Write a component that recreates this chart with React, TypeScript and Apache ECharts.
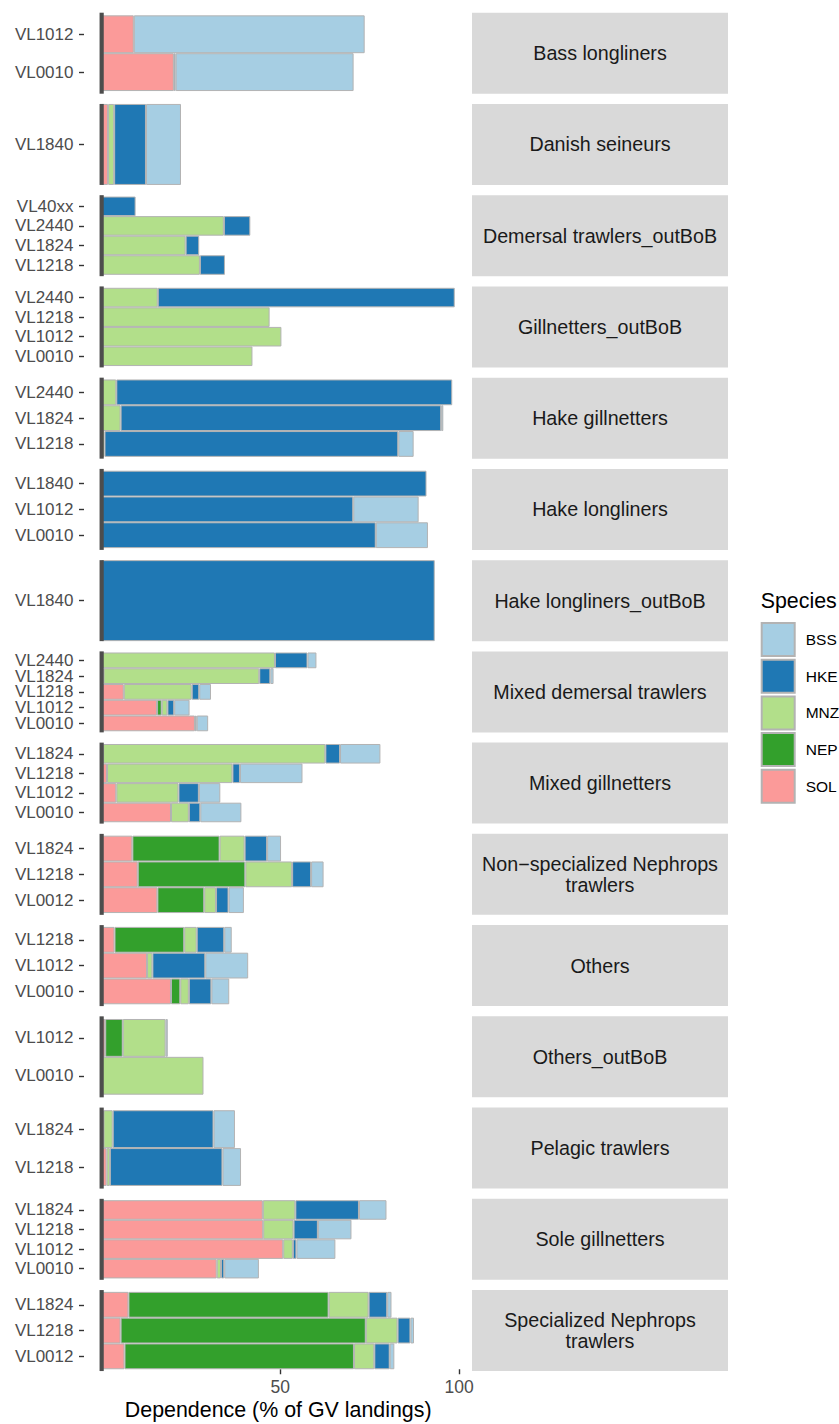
import React, { useEffect, useRef } from "react";
import * as echarts from "echarts";

// Facet (fleet) labels, top to bottom
const fleetLabels = [
  "Bass longliners",
  "Danish seineurs",
  "Demersal trawlers_outBoB",
  "Gillnetters_outBoB",
  "Hake gillnetters",
  "Hake longliners",
  "Hake longliners_outBoB",
  "Mixed demersal trawlers",
  "Mixed gillnetters",
  "Non−specialized Nephrops\ntrawlers",
  "Others",
  "Others_outBoB",
  "Pelagic trawlers",
  "Sole gillnetters",
  "Specialized Nephrops\ntrawlers",
];

// One entry per bar (row), top to bottom within each facet
const rowFleet = [
  0, 0,
  1,
  2, 2, 2, 2,
  3, 3, 3, 3,
  4, 4, 4,
  5, 5, 5,
  6,
  7, 7, 7, 7, 7,
  8, 8, 8, 8,
  9, 9, 9,
  10, 10, 10,
  11, 11,
  12, 12,
  13, 13, 13, 13,
  14, 14, 14,
];

const rowVessel = [
  "VL1012", "VL0010",
  "VL1840",
  "VL40xx", "VL2440", "VL1824", "VL1218",
  "VL2440", "VL1218", "VL1012", "VL0010",
  "VL2440", "VL1824", "VL1218",
  "VL1840", "VL1012", "VL0010",
  "VL1840",
  "VL2440", "VL1824", "VL1218", "VL1012", "VL0010",
  "VL1824", "VL1218", "VL1012", "VL0010",
  "VL1824", "VL1218", "VL0012",
  "VL1218", "VL1012", "VL0010",
  "VL1012", "VL0010",
  "VL1824", "VL1218",
  "VL1824", "VL1218", "VL1012", "VL0010",
  "VL1824", "VL1218", "VL0012",
];

// Dependence (% of GV landings) by species
const SOL = [
  9.0, 20.2,
  1.8,
  0, 0, 0, 0,
  0, 0, 0, 0,
  0, 0, 0,
  0, 0, 0,
  0,
  0, 0.5, 6.2, 15.5, 26.1,
  0.4, 1.5, 4.1, 19.4,
  8.6, 10.1, 15.6,
  3.6, 12.7, 19.4,
  1.0, 0,
  0.5, 1.4,
  45.1, 45.2, 50.8, 32.2,
  7.5, 5.3, 6.4,
];
const NEP = [
  0, 0,
  0,
  0, 0, 0, 0,
  0, 0, 0, 0,
  0, 0, 0,
  0, 0, 0,
  0,
  0, 0, 0, 1.3, 0,
  0, 0, 0, 0,
  24.4, 30.1, 13.1,
  19.5, 0, 2.6,
  4.9, 0,
  0, 0,
  0, 0, 0, 0,
  56.0, 68.6, 64.2,
];
const MNZ = [
  0, 0,
  1.7,
  0, 34.2, 23.5, 27.5,
  15.7, 47.0, 50.3, 42.2,
  4.1, 5.3, 0.8,
  0, 0, 0,
  0,
  48.5, 43.6, 19.0, 1.6, 0,
  62.2, 35.1, 17.4, 5.0,
  7.0, 13.1, 3.3,
  3.5, 1.5, 2.4,
  12.0, 28.5,
  2.6, 0.9,
  9.1, 8.5, 2.7, 1.2,
  11.2, 8.9, 5.7,
];
const HKE = [
  0, 0.5,
  8.9,
  9.5, 7.4, 3.8, 7.0,
  83.1, 0, 0, 0,
  94.0, 89.7, 82.2,
  90.9, 70.4, 76.7,
  93.2,
  9.1, 3.1, 2.1, 1.9, 0.5,
  4.1, 2.1, 5.7, 3.2,
  6.3, 5.3, 3.5,
  7.7, 14.8, 6.3,
  0, 0,
  28.2, 31.5,
  17.8, 6.8, 1.0, 0.9,
  5.2, 3.6, 4.3,
];
const BSS = [
  64.6, 49.8,
  9.8,
  0, 0, 0, 0,
  0, 0, 0, 0,
  0, 0.6, 4.3,
  0, 18.3, 14.6,
  0,
  2.5, 0.9, 3.3, 4.3, 3.2,
  11.3, 17.5, 6.0, 11.5,
  3.9, 3.5, 4.3,
  2.1, 12.0, 5.0,
  0.6, 0,
  6.0, 5.2,
  7.7, 9.4, 10.9, 9.7,
  1.2, 1.0, 1.3,
];

const speciesNames = ["BSS", "HKE", "MNZ", "NEP", "SOL"];
const speciesColors: Record<string, string> = {
  BSS: "#A6CEE3",
  HKE: "#1F78B4",
  MNZ: "#B2DF8A",
  NEP: "#33A02C",
  SOL: "#FB9A99",
};
const stackOrder = ["SOL", "NEP", "MNZ", "HKE", "BSS"];
const speciesValues: Record<string, number[]> = { SOL, NEP, MNZ, HKE, BSS };
const xTicks = [50, 100];

// Layout constants
const FONT = '"Liberation Sans", Arial, Helvetica, sans-serif';
const PANEL_LEFT = 84;
const PANEL_WIDTH = 388.4;
const PANEL_TOP0 = 12.7;
const PANEL_PITCH = 91.24;
const PANEL_H = 81;
const X_MIN = -4.94;
const X_MAX = 103.74;
const STRIP_X = 472;
const STRIP_W = 256;

export default function App() {
  const ref = useRef<HTMLDivElement>(null);

  useEffect(() => {
    const chart = echarts.init(ref.current!, null, { renderer: "svg" });
    const nF = fleetLabels.length;

    const grids: any[] = [];
    const xAxes: any[] = [];
    const yAxes: any[] = [];
    const series: any[] = [];

    for (let f = 0; f < nF; f++) {
      const idx = rowFleet.map((v, i) => (v === f ? i : -1)).filter((i) => i >= 0);
      const n = idx.length;
      const top = PANEL_TOP0 + f * PANEL_PITCH;
      const m = n === 1 ? 0 : (PANEL_H * 0.07) / (n + 0.14);
      grids.push({ left: PANEL_LEFT, width: PANEL_WIDTH, top: top + m, height: PANEL_H - 2 * m });
      const last = f === nF - 1;
      xAxes.push({
        type: "value",
        gridIndex: f,
        min: X_MIN,
        max: X_MAX,
        show: last,
        axisLine: { show: true, onZero: false, lineStyle: { color: "rgba(0,0,0,0)", width: 0 } },
        splitLine: { show: false },
        axisTick: {
          show: last,
          customValues: xTicks,
          length: 5,
          lineStyle: { color: "#333333", width: 1.4 },
        },
        axisLabel: {
          show: last,
          customValues: xTicks,
          color: "#4d4d4d",
          fontSize: 17.5,
          fontFamily: FONT,
          margin: 9,
        },
        name: last ? "Dependence (% of GV landings)" : "",
        nameLocation: "middle",
        nameGap: 30,
        nameTextStyle: { fontSize: 21.4, color: "#000000", fontFamily: FONT, verticalAlign: "top" },
      });
      yAxes.push({
        type: "category",
        gridIndex: f,
        inverse: true,
        data: idx.map((i) => rowVessel[i]),
        axisLine: { show: true, onZero: false, lineStyle: { color: "rgba(0,0,0,0)", width: 0 } },
        splitLine: { show: false },
        axisTick: {
          show: true,
          alignWithLabel: true,
          interval: 0,
          length: 5,
          lineStyle: { color: "#333333", width: 1.4 },
        },
        axisLabel: {
          interval: 0,
          hideOverlap: false,
          color: "#4d4d4d",
          fontSize: 17,
          fontFamily: FONT,
          margin: 10.5,
        },
      });
      for (const sp of stackOrder) {
        series.push({
          type: "bar",
          name: sp,
          xAxisIndex: f,
          yAxisIndex: f,
          stack: "fleet" + f,
          barCategoryGap: "0%",
          data: idx.map((i) => (speciesValues[sp][i] > 0 ? speciesValues[sp][i] : "-")),
          itemStyle: { color: speciesColors[sp], borderColor: "#b3b3b3", borderWidth: 1 },
          emphasis: { disabled: true },
        });
      }
    }

    chart.setOption({
      animation: false,
      backgroundColor: "#ffffff",
      textStyle: { fontFamily: FONT },
      grid: grids,
      xAxis: xAxes,
      yAxis: yAxes,
      series,
      legend: {
        show: true,
        orient: "vertical",
        left: 760.7,
        top: 622,
        padding: 0,
        itemWidth: 33,
        itemHeight: 33,
        itemGap: 1.7,
        icon: "rect",
        selectedMode: false,
        data: speciesNames,
        textStyle: { fontSize: 15.5, color: "#000000", fontFamily: FONT, padding: [0, 0, 0, 6] },
      },
    });

    const graphics: any[] = [];
    for (let f = 0; f < nF; f++) {
      const top = PANEL_TOP0 + f * PANEL_PITCH;
      const x0 = chart.convertToPixel({ xAxisIndex: f } as any, 0) as number;
      graphics.push({
        type: "rect",
        z: 100,
        shape: { x: x0 - 2.1, y: top, width: 4.2, height: PANEL_H },
        style: { fill: "#4d4d4d" },
        silent: true,
      });
      graphics.push({
        type: "rect",
        z: 1,
        shape: { x: STRIP_X, y: top, width: STRIP_W, height: PANEL_H },
        style: { fill: "#d9d9d9" },
        silent: true,
      });
      graphics.push({
        type: "text",
        z: 2,
        x: STRIP_X + STRIP_W / 2,
        y: top + PANEL_H / 2,
        style: {
          text: fleetLabels[f],
          fill: "#1a1a1a",
          fontSize: 19.7,
          fontFamily: FONT,
          lineHeight: 20.7,
          align: "center",
          verticalAlign: "middle",
        },
        silent: true,
      });
    }
    graphics.push({
      type: "text",
      x: 760.7,
      y: 601,
      style: {
        text: "Species",
        fill: "#000000",
        fontSize: 21.4,
        fontFamily: FONT,
        align: "left",
        verticalAlign: "middle",
      },
      silent: true,
    });
    chart.setOption({ graphic: graphics });

    return () => chart.dispose();
  }, []);

  return (
    <div
      ref={ref}
      style={{ position: "absolute", left: 0, top: 0, width: 839, height: 1424 }}
    />
  );
}
